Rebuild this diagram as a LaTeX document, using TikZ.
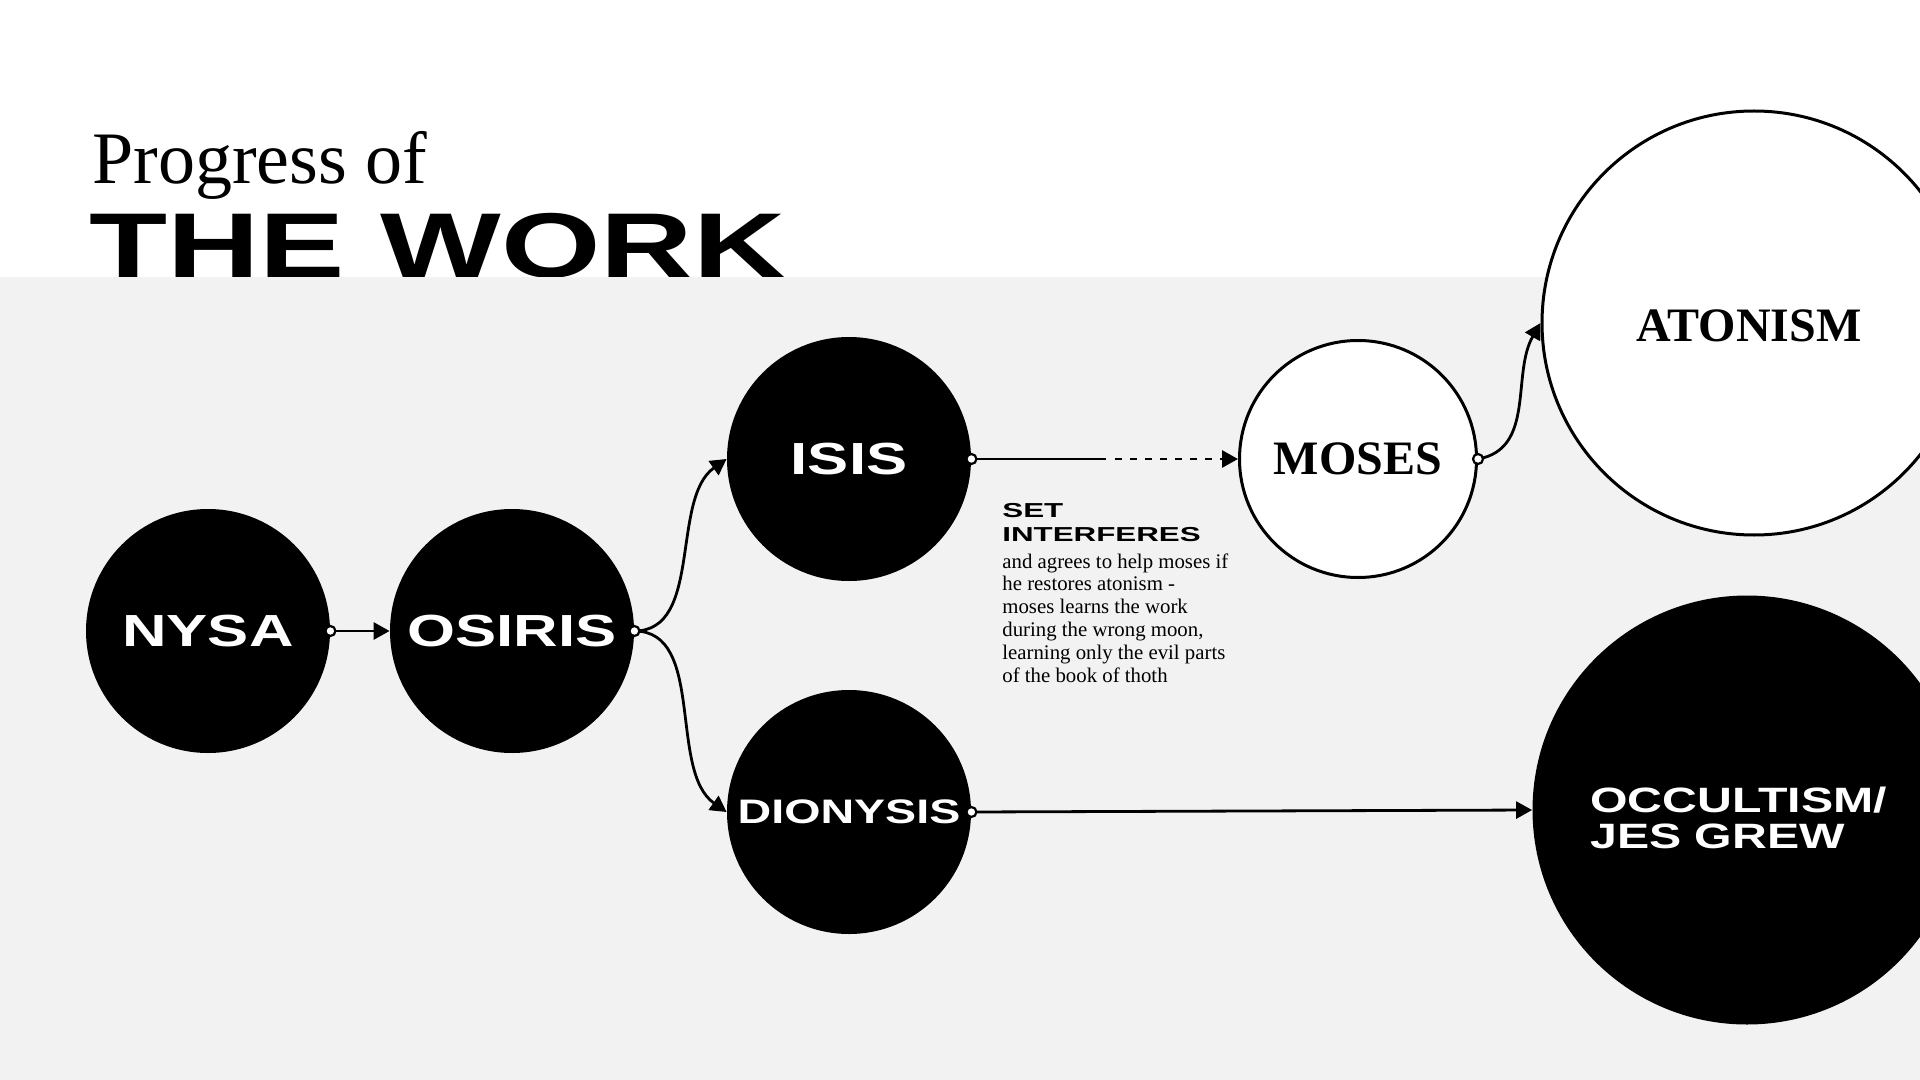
\documentclass[tikz,border=0pt]{standalone}
\usepackage{fontspec}
\setmainfont{Liberation Serif}
\newfontfamily\widefont[FakeStretch=1.37]{Liberation Sans}
\newfontfamily\xwidefont[FakeStretch=1.55]{Liberation Sans}
\newfontfamily\titlefont[FakeStretch=1.39]{Liberation Sans}
\usetikzlibrary{arrows.meta}
\definecolor{bandgray}{HTML}{F2F2F2}
\begin{document}
\begin{tikzpicture}[x=0.5pt,y=-0.5pt,
  blackcirc/.style={circle,fill=black,inner sep=0pt,minimum size=122pt,text=white,
    font=\widefont\bfseries\fontsize{22.5}{24}\selectfont},
  whitecirc/.style={circle,draw=black,line width=1.5pt,fill=white,inner sep=0pt,
    font=\bfseries\fontsize{24}{26}\selectfont},
  conn/.style={line width=1.4pt,-{Triangle[length=8pt,width=8.5pt]}},
  plainline/.style={line width=1.4pt},
  dot/.style={circle,draw=black,fill=white,line width=1.1pt,inner sep=0pt,minimum size=5pt}]
\useasboundingbox (0,0) rectangle (1920,1080);
\clip (0,0) rectangle (1920,1080);
\fill[white] (0,0) rectangle (1920,1080);
% title
\node[anchor=base west,inner sep=0pt,font=\fontsize{37}{40}\selectfont] (prog) at (92,184) {Progress of};
\node[anchor=base west,inner sep=0pt,font=\titlefont\bfseries\fontsize{46}{50}\selectfont] (thework) at (89,278) {THE WORK};
% grey band
\fill[bandgray] (0,277) rectangle (1920,1080);
% circles
\node[blackcirc] (nysa) at (208,631) {NYSA};
\node[blackcirc] (osiris) at (512,631) {OSIRIS};
\node[blackcirc] (isis) at (849,459) {ISIS};
\node[blackcirc,font=\widefont\bfseries\fontsize{17}{18}\selectfont] (dionysis) at (849,812) {DIONYSIS};
\node[whitecirc,minimum size=118.5pt] (moses) at (1358,459) {MOSES};
\node[whitecirc,minimum size=212pt] (atonism) at (1754,323) {};
\node[inner sep=0pt,font=\bfseries\fontsize{24}{26}\selectfont] (atontext) at (1749,326) {ATONISM};
\node[blackcirc,minimum size=214.5pt] (occult) at (1747,810) {};
\node[anchor=west,inner sep=0pt,align=left,text=white,
  font=\widefont\bfseries\fontsize{17.6}{18}\selectfont] (occtext) at (1590,818) {OCCULTISM/\\JES GREW};
% annotation
\node[anchor=north west,inner sep=0pt,align=left,
  font=\xwidefont\bfseries\fontsize{10.1}{12}\selectfont] (sethead) at (1002,503) {SET\\INTERFERES};
\node[anchor=north west,inner sep=0pt,align=left,
  font=\fontsize{10.4}{11.4}\selectfont] (setbody) at (1002,553) {and agrees to help moses if\\he restores atonism -\\moses learns the work\\during the wrong moon,\\learning only the evil parts\\of the book of thoth};
% connectors
\coordinate (solidend) at (1106,459);
\coordinate (dashstart) at (1115,459);
\draw[conn] (nysa.east) -- (osiris.west);
\draw[conn] (osiris.east) to[out=0,in=215,looseness=0.9] (isis.west);
\draw[conn] (osiris.east) to[out=0,in=145,looseness=0.9] (dionysis.west);
\draw[plainline] (isis.east) -- (solidend);
\draw[conn,dash pattern=on 3.6pt off 3.9pt] (dashstart) -- (moses.west);
\draw[conn] (moses.east) to[out=10,in=240] (atonism.west);
\draw[conn] (dionysis.east) -- (occult.west);
% start dots
\node[dot] (dot1) at (nysa.east) {};
\node[dot] (dot2) at (osiris.east) {};
\node[dot] (dot3) at (isis.east) {};
\node[dot] (dot4) at (moses.east) {};
\node[dot] (dot5) at (dionysis.east) {};
\end{tikzpicture}
\end{document}
